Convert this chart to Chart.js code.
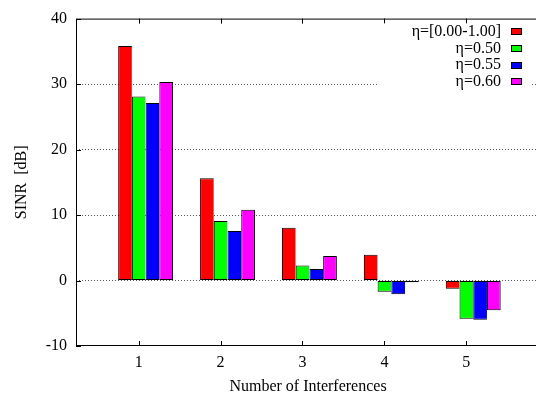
<!DOCTYPE html>
<html>
<head>
<meta charset="utf-8">
<script src="https://cdn.jsdelivr.net/npm/chart.js@4"></script>
<style>
  html, body { margin: 0; padding: 0; background: #fff; overflow: hidden; }
  #wrap { width: 540px; height: 401px; }
</style>
</head>
<body>
<div id="wrap"><canvas id="sinrChart" width="540" height="401"></canvas></div>
<script>
// number of interfering nodes (x axis)
const interferers = [1, 2, 3, 4, 5];
const xTicks = [1, 2, 3, 4, 5];
const yTicks = [-10, 0, 10, 20, 30, 40];

// SINR [dB] for each eta setting
const sinrEtaRange = [35.8, 15.6, 8.05, 3.95, -1.25];
const sinrEta050 = [28.1, 9.1, 2.3, -1.7, -5.85];
const sinrEta055 = [27.1, 7.55, 1.75, -2.1, -6.0];
const sinrEta060 = [30.3, 10.8, 3.75, -0.25, -4.55];

const seriesLabels = ['η=[0.00-1.00]', 'η=0.50', 'η=0.55', 'η=0.60'];
const seriesColors = ['#ff0000', '#00ff00', '#0000ff', '#ff00ff'];

const FAMILY = '"Liberation Serif", "Times New Roman", serif';
const serif = { family: FAMILY, size: 16, lineHeight: 1.2 };
Chart.defaults.font.family = FAMILY;
Chart.defaults.font.size = 16;
Chart.defaults.color = '#000';

const toPoints = vals => interferers.map((x, i) => ({ x, y: vals[i] }));
const fixedTicks = list => s => { s.ticks = list.map(v => ({ value: v })); };

// plot box with inward tick marks, like a gnuplot border
const framePlugin = {
  id: 'frame',
  afterDatasetsDraw(chart) {
    const { ctx, chartArea: a, scales } = chart;
    ctx.save();
    ctx.strokeStyle = '#000';
    ctx.lineWidth = 1;
    ctx.strokeRect(a.left + 0.5, a.top + 0.5, a.right - a.left - 1, a.bottom - a.top - 1);
    ctx.beginPath();
    scales.xt.ticks.forEach(t => {
      const px = Math.round(scales.xt.getPixelForValue(t.value)) + 0.5;
      ctx.moveTo(px, a.bottom); ctx.lineTo(px, a.bottom - 5);
      ctx.moveTo(px, a.top); ctx.lineTo(px, a.top + 5);
    });
    scales.y.ticks.forEach(t => {
      const py = Math.round(scales.y.getPixelForValue(t.value)) + 0.5;
      ctx.moveTo(a.left, py); ctx.lineTo(a.left + 5, py);
    });
    ctx.stroke();
    ctx.restore();
  }
};

// key in the top right corner: text first, colour swatch after it
const keyPlugin = {
  id: 'key',
  afterDraw(chart) {
    const { ctx, chartArea: a } = chart;
    const textRight = a.right - 39;
    const boxLeft = a.right - 29;
    ctx.save();
    ctx.fillStyle = '#fff';
    ctx.fillRect(a.right - 162, a.top + 5, 153, 68);
    ctx.font = '16px ' + FAMILY;
    ctx.textAlign = 'right';
    ctx.textBaseline = 'middle';
    chart.data.datasets.forEach((ds, i) => {
      const cy = a.top + 13 + i * 16.7;
      ctx.fillStyle = '#000';
      ctx.fillText(ds.label, textRight, cy);
      const top = Math.round(cy - 3.5);
      ctx.fillStyle = ds.backgroundColor;
      ctx.fillRect(boxLeft, top, 11, 7);
      ctx.strokeStyle = '#000';
      ctx.lineWidth = 1;
      ctx.strokeRect(boxLeft + 0.5, top + 0.5, 10, 6);
    });
    ctx.restore();
  }
};

const allSeries = [sinrEtaRange, sinrEta050, sinrEta055, sinrEta060];

function drawChart() {
  new Chart(document.getElementById('sinrChart'), {
    type: 'bar',
    data: {
      datasets: allSeries.map((vals, i) => ({
        label: seriesLabels[i],
        data: toPoints(vals),
        backgroundColor: seriesColors[i],
        borderColor: '#000',
        borderWidth: i === allSeries.length - 1 ? 1 : { top: 1, bottom: 1, left: 1, right: 0 },
        borderSkipped: false,
        categoryPercentage: 0.67,
        barPercentage: 1,
        xAxisID: 'x',
        yAxisID: 'y'
      }))
    },
    options: {
      responsive: false,
      animation: false,
      events: [],
      layout: { padding: { top: 13, right: 0, bottom: 0, left: 0 } },
      plugins: { legend: { display: false }, tooltip: { enabled: false } },
      scales: {
        // bars sit on this one
        x: {
          type: 'linear', display: false, offset: false,
          min: 0.15, max: 5.815,
          afterBuildTicks: fixedTicks(xTicks)
        },
        // labelled axis, shifted a little left of the bar groups
        xt: {
          type: 'linear',
          position: 'bottom',
          offset: false,
          min: 0.235,
          max: 5.9,
          afterBuildTicks: fixedTicks(xTicks),
          afterFit: s => { s.height = 55; },
          grid: { display: false, drawTicks: false, tickLength: 0, offset: false },
          border: { display: false },
          ticks: { padding: 7, maxRotation: 0, font: serif, color: '#000' },
          title: { display: true, text: 'Number of Interferences', font: serif, padding: { top: 0, bottom: 5 } }
        },
        y: {
          min: -10,
          max: 40,
          afterBuildTicks: fixedTicks(yTicks),
          afterFit: s => { s.width = 76; },
          grid: {
            drawTicks: false,
            tickLength: 0,
            lineWidth: 1,
            color: ctx => (ctx.tick && (ctx.tick.value === 40 || ctx.tick.value === -10)) ? 'rgba(0,0,0,0)' : '#555'
          },
          border: { display: false, dash: [1, 2] },
          ticks: { padding: 9, font: serif, color: '#000' },
          title: { display: true, text: 'SINR  [dB]', font: serif, padding: { top: 12, bottom: 0 } }
        }
      }
    },
    plugins: [framePlugin, keyPlugin]
  });
}

document.fonts.load('16px ' + FAMILY).then(drawChart, drawChart);
</script>
</body>
</html>
